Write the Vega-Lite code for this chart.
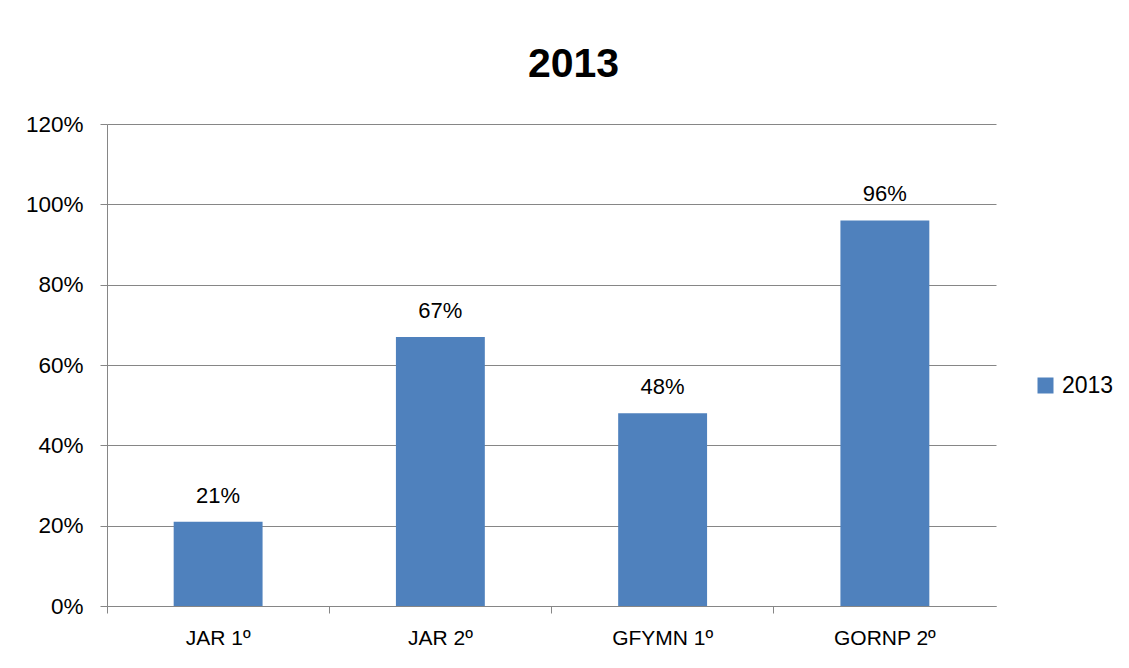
{
  "$schema": "https://vega.github.io/schema/vega-lite/v6.json",
  "autosize": {"type": "none"},
  "width": 889,
  "height": 482,
  "padding": {"left": 107, "top": 124, "right": 133, "bottom": 62},
  "background": "white",
  "title": {"text": "2013", "font": "Liberation Sans", "fontSize": 41, "fontWeight": "bold", "color": "black", "anchor": "middle", "baseline": "alphabetic", "offset": -5, "dx": 22},
  "data": {"values": [
    {"cat": "JAR 1º", "v": 0.21, "serie": "2013"},
    {"cat": "JAR 2º", "v": 0.67, "serie": "2013"},
    {"cat": "GFYMN 1º", "v": 0.48, "serie": "2013"},
    {"cat": "GORNP 2º", "v": 0.96, "serie": "2013"}
  ]},
  "encoding": {
    "x": {"field": "cat", "type": "nominal", "sort": null,
      "scale": {"paddingInner": 0.6, "paddingOuter": 0.3},
      "axis": {"title": null, "labelAngle": 0, "labelFont": "Liberation Sans", "labelFontSize": 21, "labelColor": "black", "labelPadding": 14, "domainColor": "#868686", "tickColor": "#868686", "tickSize": 7, "bandPosition": -0.75, "grid": false}},
    "y": {"field": "v", "type": "quantitative",
      "scale": {"domain": [0, 1.2]},
      "axis": {"title": null, "format": ".0%", "values": [0, 0.2, 0.4, 0.6, 0.8, 1.0, 1.2], "labelFont": "Liberation Sans", "labelFontSize": 22.5, "labelColor": "black", "labelPadding": 17, "domainColor": "#868686", "tickColor": "#868686", "tickSize": 7, "gridColor": "#868686", "gridOpacity": 1}}
  },
  "layer": [
    {"mark": {"type": "bar"},
     "encoding": {"color": {"field": "serie", "type": "nominal", "scale": {"range": ["#4F81BD"]},
       "legend": {"title": null, "orient": "none", "legendX": 927, "legendY": 250, "symbolType": "square", "symbolSize": 256, "symbolStrokeWidth": 0, "labelFont": "Liberation Sans", "labelFontSize": 23, "labelColor": "black", "labelOffset": 5}}}},
    {"mark": {"type": "text", "font": "Liberation Sans", "fontSize": 22, "color": "black", "baseline": "alphabetic", "dy": -19},
     "encoding": {"text": {"field": "v", "type": "quantitative", "format": ".0%"}}}
  ],
  "config": {"view": {"stroke": null}}
}
